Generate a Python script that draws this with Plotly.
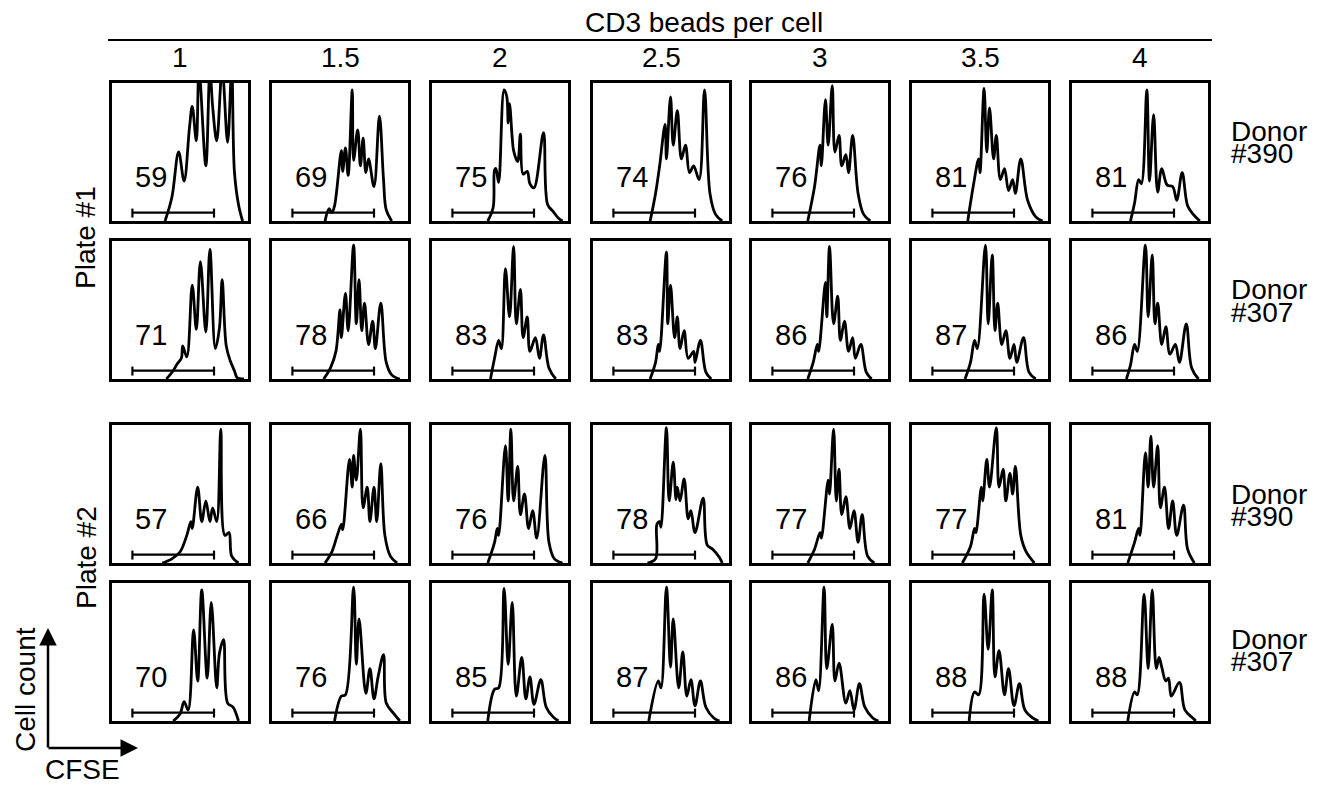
import plotly.graph_objects as go

# ---------------- data ----------------
BEADS = ["1", "1.5", "2", "2.5", "3", "3.5", "4"]
ROW_DONOR = ["#390", "#307", "#390", "#307"]

# percent of divided cells (gate) per panel
PCT_P1_D390 = [59, 69, 75, 74, 76, 81, 81]
PCT_P1_D307 = [71, 78, 83, 83, 86, 87, 86]
PCT_P2_D390 = [57, 66, 76, 78, 77, 77, 81]
PCT_P2_D307 = [70, 76, 85, 87, 86, 88, 88]

# CFSE histograms: (CFSE channel %, relative count %) vertices
CURVES_P1_D390 = [
    [(39,0),(44,17),(49,50),(53,29),(57,68),(59,83),(62,58),(64,110),(69,40),(72,110),(74,83),(77,58),(81,110),(85,57),(88,110),(90,36),(93,12),(96,0)],
    [(39,0),(42,9),(44,6),(46,11),(51,51),(52,36),(54,53),(56,33),(59,95),(60,44),(63,66),(65,40),(67,60),(69,35),(71,45),(75,25),(79,76),(82,30),(84,8),(88,0)],
    [(41,0),(45,10),(46,37),(47,38),(49,28),(53,95),(55,90),(56,71),(57,85),(59,60),(60,51),(63,43),(65,63),(67,34),(70,36),(72,27),(75,24),(82,64),(85,12),(89,7),(93,2),(96,0)],
    [(42,0),(46,20),(49,40),(53,70),(54,45),(57,90),(59,55),(62,80),(65,45),(68,55),(71,35),(74,40),(78,30),(82,95),(86,20),(90,5),(95,0)],
    [(41,0),(46,25),(50,55),(51,40),(54,88),(56,55),(59,98),(61,50),(64,62),(66,40),(69,48),(71,35),(74,62),(78,20),(82,5),(87,0)],
    [(41,0),(45,25),(49,45),(50,35),(53,96),(55,50),(57,82),(60,45),(62,62),(65,30),(68,38),(71,22),(74,30),(76,20),(80,45),(85,15),(91,3),(96,0)],
    [(43,0),(46,13),(49,30),(51,27),(55,95),(57,29),(60,77),(63,21),(66,38),(70,26),(74,25),(77,15),(81,35),(85,11),(89,5),(94,0)],
]
CURVES_P1_D307 = [
    [(40,0),(45,6),(48,11),(51,15),(52,24),(55,16),(59,68),(62,36),(65,85),(69,34),(72,94),(76,22),(79,37),(81,72),(84,24),(87,13),(90,6),(92,1),(97,0)],
    [(38,0),(43,8),(47,20),(50,50),(51,30),(54,62),(56,35),(60,97),(62,40),(64,72),(66,35),(68,55),(71,25),(74,42),(76,22),(80,55),(84,12),(88,3),(94,0)],
    [(43,0),(46,15),(49,28),(51,22),(54,80),(57,45),(60,96),(62,40),(65,65),(67,30),(70,45),(72,20),(76,30),(79,15),(82,32),(86,8),(91,0)],
    [(42,0),(46,12),(48,25),(49,20),(54,92),(55,40),(57,68),(60,30),(62,45),(64,22),(67,35),(70,15),(74,20),(75,12),(79,28),(83,5),(87,0)],
    [(41,0),(45,12),(48,25),(49,20),(54,70),(55,45),(57,96),(60,40),(63,60),(65,28),(68,42),(71,20),(74,30),(76,15),(80,25),(84,5),(88,0)],
    [(39,0),(43,12),(46,28),(48,22),(54,97),(56,40),(59,90),(61,35),(63,55),(66,25),(69,35),(72,15),(75,25),(77,12),(82,30),(86,5),(91,0)],
    [(40,0),(43,10),(46,25),(48,20),(54,97),(56,45),(59,90),(61,40),(63,55),(66,25),(69,38),(72,18),(76,25),(79,12),(84,40),(88,8),(93,0)],
]
CURVES_P2_D390 = [
    [(37,0),(44,3),(50,8),(55,20),(58,30),(59,25),(63,55),(66,30),(69,45),(72,30),(74,40),(77,30),(80,97),(83,20),(86,22),(88,5),(93,0)],
    [(39,0),(44,8),(48,20),(51,28),(52,24),(57,75),(59,55),(60,78),(62,60),(65,97),(67,40),(70,55),(72,30),(75,55),(77,30),(80,72),(83,20),(87,5),(92,0)],
    [(41,0),(46,15),(48,25),(49,20),(54,85),(56,45),(58,97),(60,45),(63,70),(65,35),(68,50),(71,25),(74,38),(77,18),(83,78),(86,15),(90,3),(96,0)],
    [(40,0),(46,3),(47,28),(49,30),(50,26),(54,98),(56,45),(59,73),(61,46),(62,55),(64,45),(67,61),(70,32),(72,38),(75,22),(81,47),(84,13),(88,10),(93,4),(95,0)],
    [(41,0),(46,10),(50,22),(51,18),(56,60),(57,50),(60,97),(62,45),(64,68),(66,35),(69,48),(72,25),(75,38),(78,15),(81,35),(85,5),(90,0)],
    [(37,0),(43,12),(46,25),(47,22),(51,55),(52,45),(55,75),(57,55),(62,98),(64,55),(67,68),(69,45),(72,65),(74,50),(76,70),(80,20),(84,8),(90,0)],
    [(41,0),(46,15),(49,25),(50,20),(54,80),(56,55),(58,92),(60,55),(63,85),(65,40),(68,55),(71,25),(74,45),(77,20),(82,42),(85,10),(90,0)],
]
CURVES_P2_D307 = [
    [(45,0),(50,5),(53,14),(56,8),(60,66),(63,29),(66,95),(70,31),(73,86),(77,24),(79,49),(82,59),(85,13),(89,10),(93,0)],
    [(46,0),(51,18),(54,19),(60,97),(62,41),(64,74),(69,20),(72,38),(75,16),(78,32),(82,48),(84,13),(89,6),(94,0)],
    [(41,0),(46,23),(49,24),(53,96),(56,41),(59,86),(62,18),(66,46),(69,16),(72,32),(75,12),(80,30),(84,10),(89,3),(93,0)],
    [(41,0),(48,29),(50,24),(54,97),(57,39),(59,74),(63,24),(66,50),(69,18),(72,30),(75,11),(79,29),(83,10),(89,2),(93,0)],
    [(42,0),(47,30),(49,22),(53,97),(55,38),(59,70),(61,29),(64,42),(69,13),(72,22),(75,8),(79,27),(83,10),(89,2),(93,0)],
    [(42,0),(46,21),(49,19),(53,92),(56,52),(59,95),(61,32),(64,51),(68,19),(71,38),(75,11),(79,27),(83,8),(89,2),(93,0)],
    [(41,0),(46,21),(48,19),(53,92),(56,38),(59,95),(62,38),(64,46),(66,39),(69,29),(71,31),(73,18),(79,28),(83,8),(89,2),(91,0)],
]
GATE = (15, 75)   # divided-cell gate on CFSE channel (%)

ROWS_CURVES = [CURVES_P1_D390, CURVES_P1_D307, CURVES_P2_D390, CURVES_P2_D307]
ROWS_PCT = [PCT_P1_D390, PCT_P1_D307, PCT_P2_D390, PCT_P2_D307]

# ---------------- layout (screen pixel positions) ----------------
W, H = 1322, 785
OFF = 8  # page body margin
COL_LEFT = [112, 272, 432, 593, 752, 912, 1072]
BOX_W = 136
ROW_TOP = [83, 241, 425, 583]
BOX_H = 138
DONOR_Y = [132, 290, 494, 639]
FONT = "Liberation Sans, Arial, Helvetica, sans-serif"
FS = 28

def px(x):
    return (x - OFF) / W

def py(y):
    return 1 - (y - OFF) / H

def label(x, y, text, **kw):
    d = dict(x=px(x), y=py(y), xref="paper", yref="paper", text=text, showarrow=False,
             xanchor="center", yanchor="middle",
             font=dict(size=kw.pop("size", FS), color="black", family=FONT))
    d.update(kw)
    return d

fig = go.Figure()
layout = {}
annotations = []
n = 0
for r in range(4):
    for c in range(7):
        n += 1
        xa = "x" if n == 1 else f"x{n}"
        ya = "y" if n == 1 else f"y{n}"
        kx = "xaxis" if n == 1 else f"xaxis{n}"
        ky = "yaxis" if n == 1 else f"yaxis{n}"
        ax_common = dict(showgrid=False, zeroline=False, showticklabels=False,
                         ticks="", showline=True, linecolor="black", linewidth=2.8,
                         mirror=True, fixedrange=True)
        layout[kx] = dict(domain=[px(COL_LEFT[c]), px(COL_LEFT[c] + BOX_W)],
                          range=[0, 100], anchor=ya, **ax_common)
        layout[ky] = dict(domain=[py(ROW_TOP[r] + BOX_H), py(ROW_TOP[r])],
                          range=[0, 100], anchor=xa, **ax_common)
        g0, g1 = GATE
        fig.add_trace(go.Scatter(
            x=[g0, g0, None, g0, g1, None, g1, g1],
            y=[2.5, 9, None, 6, 6, None, 2.5, 9],
            mode="lines", line=dict(color="black", width=2.2),
            xaxis=xa, yaxis=ya, hoverinfo="skip", showlegend=False))
        pts = ROWS_CURVES[r][c]
        fig.add_trace(go.Scatter(
            x=[p[0] for p in pts], y=[p[1] for p in pts],
            mode="lines", line=dict(color="black", width=2.8, shape="spline", smoothing=1.0),
            xaxis=xa, yaxis=ya, showlegend=False))
        annotations.append(dict(x=29, y=32, xref=xa, yref=ya, text=str(ROWS_PCT[r][c]),
                                showarrow=False, font=dict(size=29, color="black", family=FONT),
                                xanchor="center", yanchor="middle"))

# column headers
annotations.append(label(704, 23, "CD3 beads per cell", size=28))
for c, b in enumerate(BEADS):
    annotations.append(label(COL_LEFT[c] + BOX_W / 2, 58, b))

# plate labels
annotations.append(label(86, 238, "Plate #1", textangle=-90))
annotations.append(label(86, 558, "Plate #2", textangle=-90))

# donor labels (tightly stacked, as in the source figure)
for r in range(4):
    annotations.append(label(1229, DONOR_Y[r], "Donor", xanchor="left"))
    annotations.append(label(1229, DONOR_Y[r] + 22, ROW_DONOR[r], xanchor="left"))

# axis key arrows
annotations.append(dict(x=px(48), y=py(628), xref="paper", yref="paper", ax=0, ay=121,
                        text="", showarrow=True, arrowhead=2, arrowsize=1.4, arrowwidth=2.5,
                        arrowcolor="black"))
annotations.append(dict(x=px(138), y=py(748), xref="paper", yref="paper", ax=-91, ay=0,
                        text="", showarrow=True, arrowhead=2, arrowsize=1.4, arrowwidth=2.5,
                        arrowcolor="black"))
annotations.append(label(25, 690, "Cell count", textangle=-90))
annotations.append(label(82, 769, "CFSE"))

shapes = [dict(type="line", xref="paper", yref="paper", x0=px(108), x1=px(1212),
               y0=py(40), y1=py(40), line=dict(color="black", width=2))]

fig.update_layout(width=W, height=H, margin=dict(l=0, r=0, t=0, b=0),
                  paper_bgcolor="white", plot_bgcolor="white",
                  annotations=annotations, shapes=shapes, **layout)
fig.write_html("out.html")
